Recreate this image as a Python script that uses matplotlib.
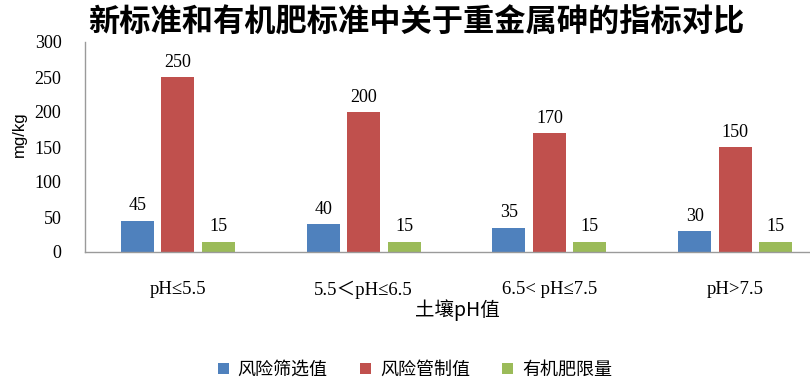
import numpy as np
import matplotlib
matplotlib.use("Agg")
import matplotlib.pyplot as plt

# data
categories = ["pH≤5.5", "5.5＜pH≤6.5", "6.5< pH≤7.5", "pH>7.5"]
series_names = ["风险筛选值", "风险管制值", "有机肥限量"]
screening = [45, 40, 35, 30]
control = [250, 200, 170, 150]
fertilizer = [15, 15, 15, 15]
colors = ["#4F81BD", "#C0504D", "#9BBB59"]

CJK = ["Noto Sans CJK SC", "DejaVu Sans"]
SERIF = ["Liberation Serif", "Noto Sans CJK SC", "DejaVu Sans"]

fig = plt.figure(figsize=(8.10, 3.84), dpi=100)
ax = fig.add_axes([85 / 810, 132 / 384, 743 / 810, 210 / 384])

x = np.arange(len(categories))
width = 0.177
step = 0.218
for i, (vals, name, col) in enumerate(zip([screening, control, fertilizer], series_names, colors)):
    bars = ax.bar(x + (i - 1) * step, vals, width, color=col, label=name, zorder=2)
    for b, v in zip(bars, vals):
        ax.text(b.get_x() + b.get_width() / 2, v + 9, str(v), ha="center", va="bottom",
                fontsize=13, family=SERIF)

ax.set_xlim(-0.5, len(categories) - 0.5)
ax.set_ylim(0, 300)
ax.set_yticks(range(0, 301, 50))
ax.set_xticks(x)
ax.set_xticklabels(categories, family=SERIF, fontsize=13.5)
for lab in ax.get_yticklabels():
    lab.set_family(SERIF)
    lab.set_fontsize(13)
ax.tick_params(axis="both", length=0)
ax.tick_params(axis="x", pad=21)
ax.tick_params(axis="y", pad=17)

for s in ["top", "right"]:
    ax.spines[s].set_visible(False)
for s in ["left", "bottom"]:
    ax.spines[s].set_color("#9a9a9a")
    ax.spines[s].set_linewidth(1.0)

ax.set_ylabel("mg/kg", family=["Liberation Sans", "DejaVu Sans"], fontsize=12)
ax.yaxis.set_label_coords(-(85 - 27) / 743, 0.56)
fig.text(457 / 810, 1 - 310 / 384, "土壤pH值", family=CJK, fontsize=14, ha="center", va="center")

fig.text(88 / 810, 1 - 23 / 384, "新标准和有机肥标准中关于重金属砷的指标对比", family=CJK,
         fontsize=22.5, fontweight="bold", ha="left", va="center")

fig.legend(loc="center", bbox_to_anchor=(415 / 810, 1 - 370 / 384), ncol=3, frameon=False,
           prop={"family": CJK, "size": 13}, handlelength=0.6, handleheight=0.6,
           handletextpad=0.5, columnspacing=1.8)

fig.savefig("out.png", dpi=100)
